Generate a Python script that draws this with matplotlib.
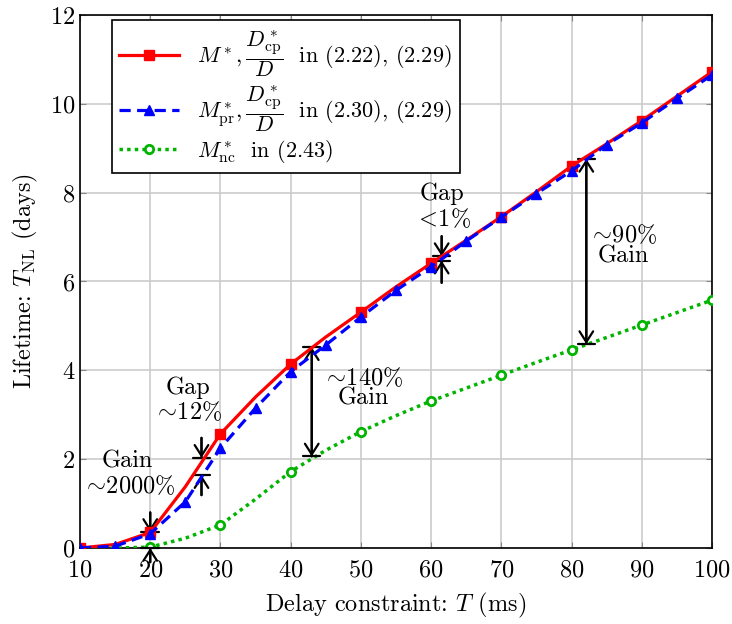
import matplotlib
matplotlib.use("Agg")
import matplotlib.pyplot as plt

plt.rcParams["font.family"] = "serif"
plt.rcParams["font.serif"] = ["cmr10", "DejaVu Serif"]
plt.rcParams["mathtext.fontset"] = "cm"
plt.rcParams["axes.formatter.use_mathtext"] = True

# delay constraint T (ms)
T = [10, 15, 20, 25, 30, 35, 40, 45, 50, 55, 60, 65, 70, 75, 80, 85, 90, 95, 100]
# lifetime (days)
life_opt = [0.0, 0.08, 0.35, 1.38, 2.57, 3.40, 4.14, 4.75, 5.31, 5.88, 6.41, 6.93,
            7.46, 8.02, 8.60, 9.10, 9.62, 10.17, 10.72]
life_pr = [0.0, 0.04, 0.32, 1.04, 2.25, 3.15, 3.97, 4.57, 5.20, 5.80, 6.33, 6.91,
           7.45, 7.98, 8.49, 9.08, 9.57, 10.12, 10.65]
life_nc = [0.0, 0.0, 0.02, 0.22, 0.52, 1.10, 1.72, 2.20, 2.62, 2.98, 3.31, 3.60,
           3.89, 4.18, 4.46, 4.74, 5.02, 5.30, 5.58]

labels = [r"$M^*, \dfrac{D^*_{\rm cp}}{D}$  in (2.22), (2.29)",
          r"$M^*_{\rm pr}, \dfrac{D^*_{\rm cp}}{D}$  in (2.30), (2.29)",
          r"$M^*_{\rm nc}$  in (2.43)"]

# (x, y_from, y_to) single arrows ending on a bar
single_arrows = [(20, 0.80, 0.36), (20, -0.32, 0.0),
                 (27.3, 2.48, 2.03), (27.3, 1.19, 1.64),
                 (61.5, 7.02, 6.57), (61.5, 5.97, 6.47)]
# (x, y_low, y_high) double arrows with bars
double_arrows = [(43.0, 2.06, 4.52), (82.1, 4.59, 8.76)]
# (x, y, text)
notes = [(16.7, 1.95, "Gain"), (16.9, 1.38, r"$\sim\!2000\%$"),
         (25.3, 3.61, "Gap"), (25.3, 3.05, r"$\sim\!12\%$"),
         (50.3, 3.83, r"$\sim\!140\%$"), (50.4, 3.36, "Gain"),
         (61.5, 7.97, "Gap"), (61.6, 7.41, r"$<\!1\%$"),
         (87.3, 7.05, r"$\sim\!90\%$"), (87.3, 6.56, "Gain")]

fig = plt.figure(figsize=(7.32, 6.24), dpi=100)
ax = fig.add_axes([0.1093, 0.1218, 0.8634, 0.8542])

ax.plot(T, life_opt, color="#ff0000", lw=2.3, marker="s", ms=6.5, markevery=2,
        label=labels[0], zorder=4)
ax.plot(T, life_pr, color="#0000ff", lw=2.3, ls=(0, (3.5, 2)), marker="^", ms=7.5,
        label=labels[1], zorder=5)
ax.plot(T, life_nc, color="#00b400", lw=2.5, ls=(0, (1, 1.2)), marker="o", ms=6,
        mfc="white", mew=2, markevery=2, label=labels[2], zorder=3)

for x, y0, y1 in single_arrows:
    ax.annotate("", xy=(x, y1), xytext=(x, y0), annotation_clip=False,
                arrowprops=dict(arrowstyle="->,head_length=0.55,head_width=0.35",
                                color="black", lw=1.6, shrinkA=0, shrinkB=0,
                                mutation_scale=14))
    ax.annotate("", xy=(x, y1), xytext=(x, y0), annotation_clip=False,
                arrowprops=dict(arrowstyle="|-|,widthA=0,widthB=0.45",
                                color="black", lw=1.6, shrinkA=0, shrinkB=0,
                                mutation_scale=14))

for x, y0, y1 in double_arrows:
    ax.annotate("", xy=(x, y1), xytext=(x, y0),
                arrowprops=dict(arrowstyle="<->,head_length=0.55,head_width=0.35",
                                color="black", lw=1.6, shrinkA=0, shrinkB=0,
                                mutation_scale=14))
    ax.annotate("", xy=(x, y1), xytext=(x, y0),
                arrowprops=dict(arrowstyle="|-|,widthA=0.45,widthB=0.45",
                                color="black", lw=1.6, shrinkA=0, shrinkB=0,
                                mutation_scale=14))

for x, y, s in notes:
    ax.text(x, y, s, ha="center", va="center", fontsize=17.5, zorder=6)

ax.set_xlim(10, 100)
ax.set_ylim(0, 12)
ax.set_xticks(range(10, 101, 10))
ax.set_yticks(range(0, 13, 2))
ax.grid(True, color="#cccccc", lw=1.2)
ax.set_axisbelow(True)
ax.tick_params(direction="in", length=4, color="#888888", labelsize=17.5,
               top=True, right=True)
ax.tick_params(axis="x", pad=8)
for sp in ax.spines.values():
    sp.set_linewidth(1.2)

ax.set_xlabel(r"Delay constraint: $T$ (ms)", fontsize=17.5, labelpad=7)
ax.set_ylabel(r"Lifetime: $T_{\rm NL}$ (days)", fontsize=17.5, labelpad=7)

leg = ax.legend(loc="upper left", bbox_to_anchor=(0.05, 0.99), fontsize=16,
                handlelength=2.7, fancybox=False, framealpha=1,
                edgecolor="black", borderpad=0.35, labelspacing=0.2,
                borderaxespad=0)
leg.get_frame().set_linewidth(1.2)

fig.savefig("out.png", dpi=100)
